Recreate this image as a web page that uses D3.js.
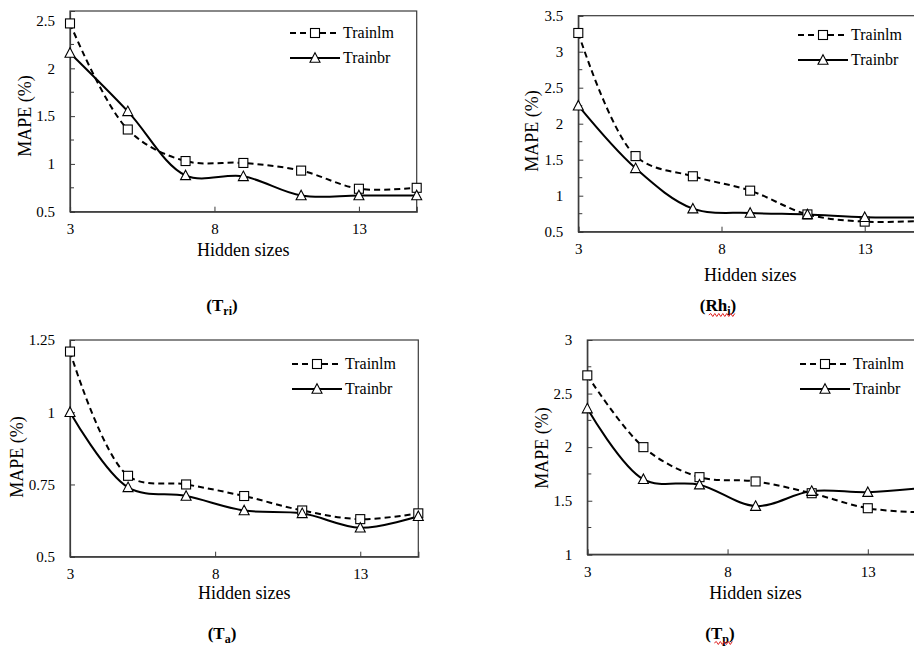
<!DOCTYPE html>
<html>
<head>
<meta charset="utf-8">
<script src="https://cdn.jsdelivr.net/npm/d3@7"></script>
<style>
  html, body { margin: 0; padding: 0; background: #fff; overflow: hidden; }
  svg { display: block; }
</style>
</head>
<body>
<svg id="chart" width="914" height="646"></svg>
<script>
// ---------------- DATA ----------------
const hiddenSizes = [3, 5, 7, 9, 11, 13, 15];
const seriesNames = ["Trainlm", "Trainbr"];

const triTrainlm = [2.47, 1.36, 1.03, 1.01, 0.93, 0.74, 0.75];
const triTrainbr = [2.16, 1.55, 0.88, 0.87, 0.67, 0.67, 0.67];

const rhTrainlm = [3.26, 1.55, 1.27, 1.07, 0.74, 0.64, 0.65];
const rhTrainbr = [2.25, 1.38, 0.82, 0.76, 0.74, 0.70, 0.70];

const taTrainlm = [1.21, 0.78, 0.75, 0.71, 0.66, 0.63, 0.65];
const taTrainbr = [1.00, 0.74, 0.71, 0.66, 0.65, 0.60, 0.64];

const tpTrainlm = [2.67, 2.00, 1.72, 1.68, 1.57, 1.43, 1.39];
const tpTrainbr = [2.36, 1.70, 1.65, 1.45, 1.59, 1.58, 1.62];

const xTicks = [3, 8, 13];
const triYTicks = [0.5, 1, 1.5, 2, 2.5];
const rhYTicks = [0.5, 1, 1.5, 2, 2.5, 3, 3.5];
const taYTicks = [0.5, 0.75, 1, 1.25];
const tpYTicks = [1, 1.5, 2, 2.5, 3];

const xTitle = "Hidden sizes";
const yTitle = "MAPE (%)";

// ---------------- LAYOUT ----------------
const FONT = "Liberation Serif";
const panels = [
  { lm: triTrainlm, br: triTrainbr, yTicks: triYTicks, yDomain: [0.5, 2.6], minor: 0.25,
    left: 70, right: 416.7, top: 11, bottom: 211.7,
    xTitleY: 256, yTitleX: 25, yTitleY: 116,
    legX: 290, legY: 33,
    cap: "T", sub: "ri", capX: 222, capY: 311, squiggle: false },
  { lm: rhTrainlm, br: rhTrainbr, yTicks: rhYTicks, yDomain: [0.5, 3.5], minor: 0.25,
    left: 578.3, right: 922, top: 15.7, bottom: 231.7,
    xTitleY: 281, yTitleX: 532, yTitleY: 131,
    legX: 798, legY: 35,
    cap: "Rh", sub: "i", capX: 718, capY: 311, squiggle: true },
  { lm: taTrainlm, br: taTrainbr, yTicks: taYTicks, yDomain: [0.5, 1.25], minor: null,
    left: 70, right: 418.3, top: 340, bottom: 556.7,
    xTitleY: 599, yTitleX: 17, yTitleY: 457,
    legX: 292, legY: 364,
    cap: "T", sub: "a", capX: 222, capY: 639, squiggle: false },
  { lm: tpTrainlm, br: tpTrainbr, yTicks: tpYTicks, yDomain: [1, 3], minor: 0.25,
    left: 587.3, right: 923.9, top: 340, bottom: 554.3,
    xTitleY: 599, yTitleX: 541.7, yTitleY: 448,
    legX: 800, legY: 364,
    cap: "T", sub: "p", capX: 720, capY: 639, squiggle: true }
];

const svg = d3.select("#chart");
const axisColor = "#3a3a3a";

function marker(g, type, cx, cy) {
  if (type === "square") {
    g.append("rect").attr("x", cx - 4.5).attr("y", cy - 4.5)
      .attr("width", 9).attr("height", 9)
      .attr("fill", "#fff").attr("stroke", "#000").attr("stroke-width", 1.1);
  } else {
    const s = 10, h = 8.5;
    g.append("path")
      .attr("d", `M${cx},${cy - h / 2 - 1}L${cx + s / 2},${cy + h / 2}L${cx - s / 2},${cy + h / 2}Z`)
      .attr("fill", "#fff").attr("stroke", "#000").attr("stroke-width", 1.1);
  }
}

panels.forEach(p => {
  const g = svg.append("g");
  const x = d3.scaleLinear().domain([3, 15]).range([p.left, p.right]);
  const y = d3.scaleLinear().domain(p.yDomain).range([p.bottom, p.top]);

  g.append("rect")
    .attr("x", p.left).attr("y", p.top)
    .attr("width", p.right - p.left).attr("height", p.bottom - p.top)
    .attr("fill", "none").attr("stroke", axisColor).attr("stroke-width", 1.2);

  if (p.minor) {
    const minorVals = d3.range(p.yDomain[0], p.yDomain[1] + 1e-9, p.minor)
      .filter(v => !p.yTicks.some(t => Math.abs(t - v) < 1e-9));
    g.selectAll(".minor").data(minorVals).join("line")
      .attr("x1", p.left).attr("x2", p.left + 4)
      .attr("y1", d => y(d)).attr("y2", d => y(d))
      .attr("stroke", axisColor).attr("stroke-width", 1);
  }

  const yAxis = d3.axisLeft(y).tickValues(p.yTicks).tickSize(-5).tickPadding(15)
    .tickFormat(d => String(d));
  const ya = g.append("g").attr("transform", `translate(${p.left},0)`).call(yAxis);
  ya.select(".domain").attr("stroke", axisColor).attr("stroke-width", 1.2);
  ya.selectAll(".tick line").attr("stroke", axisColor);
  ya.selectAll(".tick text").attr("fill", "#000")
    .style("font-family", FONT).style("font-size", "15px");

  const xAxis = d3.axisBottom(x).tickValues(xTicks).tickSize(-5).tickPadding(12)
    .tickFormat(d => String(d));
  const xa = g.append("g").attr("transform", `translate(0,${p.bottom})`).call(xAxis);
  xa.select(".domain").attr("stroke", axisColor).attr("stroke-width", 1.2);
  xa.selectAll(".tick line").attr("stroke", axisColor);
  xa.selectAll(".tick text").attr("fill", "#000")
    .style("font-family", FONT).style("font-size", "15px");

  g.append("text").attr("x", (x(3) + x(15)) / 2).attr("y", p.xTitleY)
    .attr("text-anchor", "middle")
    .style("font-family", FONT).style("font-size", "18px").text(xTitle);
  g.append("text")
    .attr("transform", `translate(${p.yTitleX},${p.yTitleY}) rotate(-90)`)
    .attr("text-anchor", "middle").attr("dy", "0.35em")
    .style("font-family", FONT).style("font-size", "18px").text(yTitle);

  const line = d3.line().x((d, i) => x(hiddenSizes[i])).y(d => y(d))
    .curve(d3.curveCatmullRom.alpha(0.5));
  g.append("path").datum(p.lm).attr("d", line)
    .attr("fill", "none").attr("stroke", "#000").attr("stroke-width", 2)
    .attr("stroke-dasharray", "6,4");
  g.append("path").datum(p.br).attr("d", line)
    .attr("fill", "none").attr("stroke", "#000").attr("stroke-width", 2);

  p.lm.forEach((v, i) => marker(g, "square", x(hiddenSizes[i]), y(v)));
  p.br.forEach((v, i) => marker(g, "triangle", x(hiddenSizes[i]), y(v)));

  const leg = g.append("g");
  seriesNames.forEach((name, k) => {
    const ly = p.legY + k * 25;
    leg.append("line").attr("x1", p.legX).attr("x2", p.legX + 50)
      .attr("y1", ly).attr("y2", ly)
      .attr("stroke", "#000").attr("stroke-width", 2)
      .attr("stroke-dasharray", k === 0 ? "6,4" : null);
    marker(leg, k === 0 ? "square" : "triangle", p.legX + 25, ly);
    leg.append("text").attr("x", p.legX + 53).attr("y", ly).attr("dy", "0.33em")
      .style("font-family", FONT).style("font-size", "16px").text(name);
  });

  const cap = g.append("text").attr("x", p.capX).attr("y", p.capY)
    .attr("text-anchor", "middle")
    .style("font-family", FONT).style("font-size", "17px").style("font-weight", "bold");
  cap.append("tspan").text("(" + p.cap);
  cap.append("tspan").attr("dy", 4).style("font-size", "12px").text(p.sub);
  cap.append("tspan").attr("dy", -4).text(")");

  if (p.squiggle) {
    const bb = cap.node().getBBox();
    const x0 = bb.x + 9, x1 = bb.x + bb.width - 3, yy = p.capY + 4;
    let d = `M${x0},${yy}`;
    for (let xx = x0, up = true; xx < x1; xx += 2, up = !up) {
      d += `L${xx + 2},${yy + (up ? -1.5 : 1.5)}`;
    }
    g.append("path").attr("d", d).attr("fill", "none")
      .attr("stroke", "#e02020").attr("stroke-width", 1);
  }
});
</script>
</body>
</html>
